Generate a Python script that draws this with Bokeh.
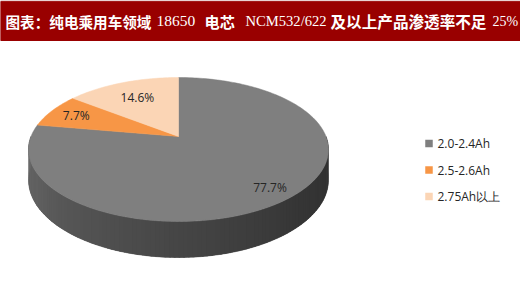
import numpy as np
from bokeh.plotting import figure
from bokeh.models import Range1d
from bokeh.core.properties import value
from bokeh.embed import file_html
from bokeh.resources import INLINE

# ---- data ----
categories = ["2.0-2.4Ah", "2.5-2.6Ah", "2.75Ah以上"]
shares = [77.7, 7.7, 14.6]
pct_labels = ["77.7%", "7.7%", "14.6%"]
colors = ["#7f7f7f", "#f79646", "#fbd5b5"]
title_parts = ["图表：纯电乘用车领域", "18650", "电芯", "NCM532/622", "及以上产品渗透率不足", "25%"]

W, H = 520, 287
p = figure(width=W, height=H, x_range=Range1d(0, W), y_range=Range1d(H, 0),
           output_backend="svg", toolbar_location=None,
           x_axis_type=None, y_axis_type=None, min_border=0,
           outline_line_color=None, background_fill_color="white",
           border_fill_color="white")
p.xgrid.visible = False
p.ygrid.visible = False

# ---- title bar ----
p.quad(left=[0], right=[W], top=[0], bottom=[1.2], color="#d9b8b8")
p.quad(left=[0], right=[W], top=[1.2], bottom=[40], color="#990000")
cjk = value("Noto Sans CJK SC")
serif = value("Liberation Serif")
title_x = [5, 156, 204, 245, 330, 492]
title_sizes = ["14.6px", "15.5px", "15.2px", "14.6px", "15.6px", "14px"]
for i, (tx, part, fs) in enumerate(zip(title_x, title_parts, title_sizes)):
    is_cjk = (i % 2 == 0)
    p.text(x=[tx], y=[20.5], text=[part], text_color="white",
           text_font=cjk if is_cjk else serif,
           text_font_size=fs,
           text_font_style="bold" if is_cjk else "normal",
           text_baseline="middle", text_align="left")

# ---- 3D pie geometry (perspective projection of a disc) ----
cx, cy, A, B, k = 178.0, 136.0, 147.5, 69.65, 0.1806
D = 29.5


def proj(r, t):
    s = 1 + k * r * np.sin(t)
    return cx + A * r * np.cos(t) / s, cy - B * r * np.sin(t) / s


def bottom_y(t):
    return proj(1, t)[1] + D / (1 + k * np.sin(t))


# side wall (front half): base shape then shaded strips
ts = np.linspace(np.pi, 2 * np.pi, 121)
bx, by = proj(1, ts)
p.patch(x=list(bx) + list(bx[::-1]), y=list(by) + list(bottom_y(ts)[::-1]),
        fill_color="#4a4a4a", line_color="#4a4a4a", line_width=0.5)
side_stops_t = np.array([np.pi, 1.25 * np.pi, 1.5 * np.pi, 1.75 * np.pi, 2 * np.pi])
side_stops_v = np.array([112, 88, 70, 54, 46])
xs, ys, cols = [], [], []
for t0, t1 in zip(ts[:-1], ts[1:]):
    t1e = min(t1 + 0.01, 2 * np.pi)
    tt = np.array([t0, t1e])
    x, y = proj(1, tt)
    b = bottom_y(tt)
    xs.append([x[0], x[1], x[1], x[0]])
    ys.append([y[0], y[1], b[1], b[0]])
    v = int(np.interp((t0 + t1) / 2, side_stops_t, side_stops_v))
    cols.append("#%02x%02x%02x" % (v, v, v))
p.patches(xs=xs, ys=ys, fill_color=cols, line_color=None)

# top slices, clockwise from 12 o'clock
start = np.pi / 2
sx, sy, mids = [], [], []
for sh in shares:
    end = start - 2 * np.pi * sh / 100.0
    tt = np.linspace(start, end, max(8, int(sh * 3)))
    rx, ry = proj(1, tt)
    sx.append([cx] + list(rx))
    sy.append([cy] + list(ry))
    mids.append((start + end) / 2)
    start = end
p.patches(xs=sx, ys=sy, fill_color=colors, line_color=colors, line_width=0.5)

# percentage labels
label_r = [0.85, 0.8, 0.7]
for m, r, lab in zip(mids, label_r, pct_labels):
    lx, ly = proj(r, m)
    p.text(x=[lx], y=[ly], text=[lab], text_color="#262626",
           text_font=value("Open Sans"), text_font_size="12px",
           text_align="center", text_baseline="middle")

# ---- legend ----
leg_x, leg_y0, leg_dy = 428.5, 143.0, 26.5
for i, (cat, col) in enumerate(zip(categories, colors)):
    yy = leg_y0 + i * leg_dy
    p.scatter(x=[leg_x], y=[yy], marker="square", size=7.5, fill_color=col,
              line_color=None)
    p.text(x=[leg_x + 8.5], y=[yy], text=[cat], text_color="#262626",
           text_font=value("Open Sans"), text_font_size="12px",
           text_align="left", text_baseline="middle")

open("out.html", "w").write(file_html(p, INLINE))
